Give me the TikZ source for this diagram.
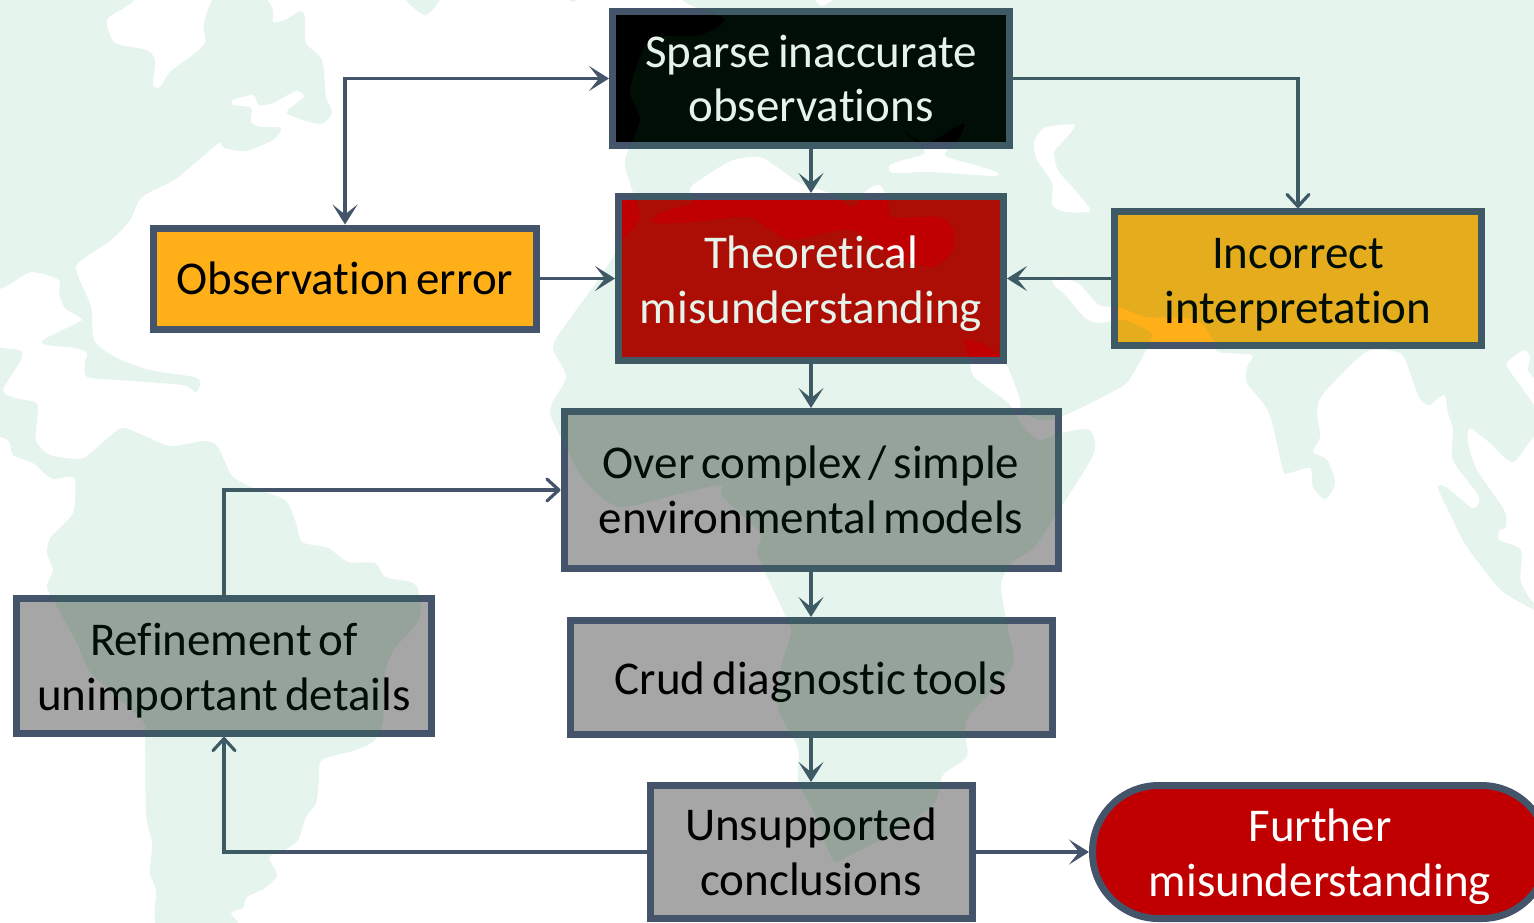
\documentclass[tikz,border=0pt]{standalone}
\usepackage{fontspec}
\setmainfont[Ligatures=NoCommon, WordSpace=0.65]{Carlito}
\usetikzlibrary{arrows.meta}
\definecolor{mslate}{HTML}{44546A}
\definecolor{mamber}{HTML}{FFB019}
\definecolor{mred}{HTML}{C00000}
\definecolor{mgrey}{HTML}{A6A6A6}
\definecolor{mland}{RGB}{0,145,65}
\newcommand{\droptext}[1]{\rule{0pt}{#1}}
\tikzset{box/.style = {draw=mslate, line width=3.5pt, align=center, inner sep=0,
                       font=\fontsize{23.5}{27.3}\selectfont}}
\tikzset{flow/.style = {draw=mslate, line width=1.9pt,
                        >={Stealth[length=10pt, width=12.5pt, inset=5pt]}}}
\tikzset{thin flow/.style = {draw=mslate, line width=1.6pt,
                             >={Straight Barb[round, length=6pt, width=11pt]}}}
\begin{document}
\begin{tikzpicture}[x=0.5pt, y=-0.5pt]
    \useasboundingbox (0, 0) rectangle (1534, 922);

    \node [box, fill=black, text=white, minimum width=198.5pt, minimum height=67pt] (sparse) at (811, 78.5) {Sparse inaccurate\\observations};
    \node [box, fill=mred, text=white, minimum width=192.5pt, minimum height=82pt] (theory) at (811, 278.5) {\droptext{21.5pt}Theoretical\\misunderstanding};
    \node [box, fill=mamber, minimum width=191.5pt, minimum height=50.5pt] (obserr) at (345, 278.5) {Observation error};
    \node [box, fill=mamber, minimum width=183.5pt, minimum height=67pt] (incorrect) at (1298, 278.5) {\droptext{21.5pt}Incorrect\\interpretation};
    \node [box, fill=mgrey, minimum width=247pt, minimum height=78.5pt] (models) at (811, 490) {Over complex / simple\\environmental models};
    \node [box, fill=mgrey, minimum width=241pt, minimum height=57pt] (crud) at (811, 677.5) {\droptext{21pt}Crud diagnostic tools};
    \node [box, fill=mgrey, minimum width=207.5pt, minimum height=67.5pt] (refine) at (224, 666) {\droptext{21pt}Refinement of\\unimportant details};
    \node [box, fill=mgrey, minimum width=161pt, minimum height=66.5pt] (unsup) at (811, 852) {Unsupported\\conclusions};
    \node [box, fill=mred, text=white, rounded corners=33pt, minimum width=227.5pt, minimum height=66.5pt] (further) at (1320, 852) {\droptext{21pt}Further\\misunderstanding};

    \draw [flow, <->] (obserr.north) |- (sparse.west);
    \draw [flow, ->] (sparse.south) -- (theory.north);
    \draw [thin flow, ->] (sparse.east) -| (incorrect.north);
    \draw [flow, ->] (obserr.east) -- (theory.west);
    \draw [flow, ->] (incorrect.west) -- (theory.east);
    \draw [flow, ->] (theory.south) -- (models.north);
    \draw [flow, ->] (models.south) -- (crud.north);
    \draw [flow, ->] (crud.south) -- (unsup.north);
    \draw [thin flow, ->] (refine.north) |- (models.west);
    \draw [thin flow, ->] (unsup.west) -| (refine.south);
    \draw [flow, ->] (unsup.east) -- (further.west);

    % world map lies over the boxes
    \begin{scope}
    \clip (0, 0) rectangle (1534, 922);
    \fill [mland, fill opacity=0.1, even odd rule]
      plot [smooth cycle, tension=0.45] coordinates {(-20,-20) (130,-5) (109,17) (107,25) (115,43) (146,50) (155,60) (153,85) (160,87) (170,72) (190,57) (205,43) (204,23) (217,-5)
        (261,-5) (273,10) (273,22) (285,20) (300,11) (305,17) (306,43) (322,60) (326,97) (332,113) (320,124) (287,113) (304,97) (296,91) (273,103) (259,105) (253,95) (233,100) (233,105) (251,108) (251,122) (261,127) (281,128) (273,140) (245,151) (225,148) (219,143) (202,157) (174,180) (142,197) (130,220) (111,240) (79,262) (77,273) (91,307) (94,340) (115,357) (150,370) (194,377) (200,383) (196,392) (182,385) (119,380) (87,377) (85,363) (87,353) (75,348) (47,345) (43,340) (79,322) (81,318) (65,308) (59,293) (59,280) (32,272) (-20,275)}
      plot [smooth cycle, tension=0.45] coordinates {(-20,353) (12,349) (22,352) (20,362) (3,390) (15,398) (35,402) (38,410) (36,440) (50,455) (78,459) (88,455) (115,432) (125,428) (145,436) (170,446) (205,441) (217,446) (225,462) (233,477) (253,488) (285,500) (296,523) (302,542) (328,548) (348,562) (375,563) (385,577) (411,582) (419,592) (419,620) (395,648) (385,673) (383,720) (375,740) (356,750) (322,760) (319,780) (316,803) (306,817) (298,840) (285,850) (269,857) (277,875) (265,888) (247,897) (243,908) (231,913) (238,930)
        (160,930) (156,890) (150,873) (152,843) (146,813) (145,737) (142,720) (91,673) (79,647) (59,610) (47,587) (53,570) (47,553) (51,537) (73,513) (75,480) (67,477) (53,479) (43,472) (33,463) (13,455) (8,440) (-20,425)}
      plot [smooth cycle, tension=0.45] coordinates {(403,-5) (425,15) (441,-5)}
      plot [smooth cycle, tension=0.45] coordinates {(565,-5) (573,2) (582,-5)}
      plot [smooth cycle, tension=0.45] coordinates {(727,-10) (1545,-10) (1545,620) (1534,610) (1501,590) (1467,547) (1453,520) (1438,488) (1446,487) (1472,508) (1479,502) (1477,493) (1453,460) (1453,430) (1448,413) (1444,395) (1429,405) (1419,397) (1409,370) (1400,353) (1366,352) (1324,393) (1317,410) (1320,437) (1313,452) (1327,460) (1335,483) (1325,499) (1313,487) (1310,468) (1289,473) (1283,470) (1269,413) (1247,383) (1247,367) (1252,355) (1218,352) (1214,342) (1201,323) (1184,318) (1146,317) (1119,307) (1099,305) (1078,283) (1054,278) (1054,285) (1065,295) (1085,318) (1100,323) (1124,320) (1150,332) (1150,342) (1129,380) (1112,392) (1061,417) (1040,420) (1022,411) (1019,396) (1005,362) (985,345) (964,340) (970,362) (974,377) (1008,403) (1022,425) (1039,440) (1061,433) (1089,430) (1094,453) (1061,507) (1034,547) (1012,563) (1001,585) (1008,630) (1012,667) (967,719) (967,756) (943,775) (933,805) (884,838) (846,857) (833,860) (812,808) (798,782) (798,749) (778,708) (781,667) (790,637) (790,626) (771,585) (757,552) (760,533) (722,496) (722,485) (678,494) (619,507) (585,481) (568,451) (550,411) (566,377) (553,347) (569,320) (593,287) (610,262) (622,240) (640,218) (630,183) (625,160) (640,120) (630,90) (650,40) (700,35) (725,20)}
      plot [smooth cycle, tension=0.45] coordinates {(813,-5) (822,6) (838,-5)}
      plot [smooth cycle, tension=0.45] coordinates {(653,223) (693,222) (747,217) (770,230) (793,240) (850,230) (893,257) (933,267) (953,250) (953,230) (940,217) (893,217) (888,200) (880,185) (867,190) (853,207) (837,197) (827,192) (800,183) (777,167) (760,157) (733,160) (707,175) (690,188) (692,203) (660,213)}
      plot [smooth cycle, tension=0.45] coordinates {(890,165) (903,160) (925,152) (903,130) (927,143) (963,123) (960,137) (945,155) (975,165) (997,172) (993,176) (930,172) (893,173)}
      plot [smooth cycle, tension=0.45] coordinates {(1034,143) (1044,128) (1075,125) (1060,145) (1054,152) (1058,170) (1075,190) (1089,207) (1088,212) (1065,212) (1052,205) (1052,183) (1037,160)}
      plot [smooth cycle, tension=0.45] coordinates {(1507,362) (1524,350) (1530,357) (1528,370) (1534,378) (1540,385) (1540,412) (1534,405) (1520,385) (1509,370)}
      plot [smooth cycle, tension=0.45] coordinates {(1470,428) (1490,443) (1513,462) (1542,438) (1542,600) (1521,583) (1521,550) (1499,540) (1500,530) (1506,527) (1504,510) (1477,470) (1468,443)};
    \end{scope}
\end{tikzpicture}
\end{document}
